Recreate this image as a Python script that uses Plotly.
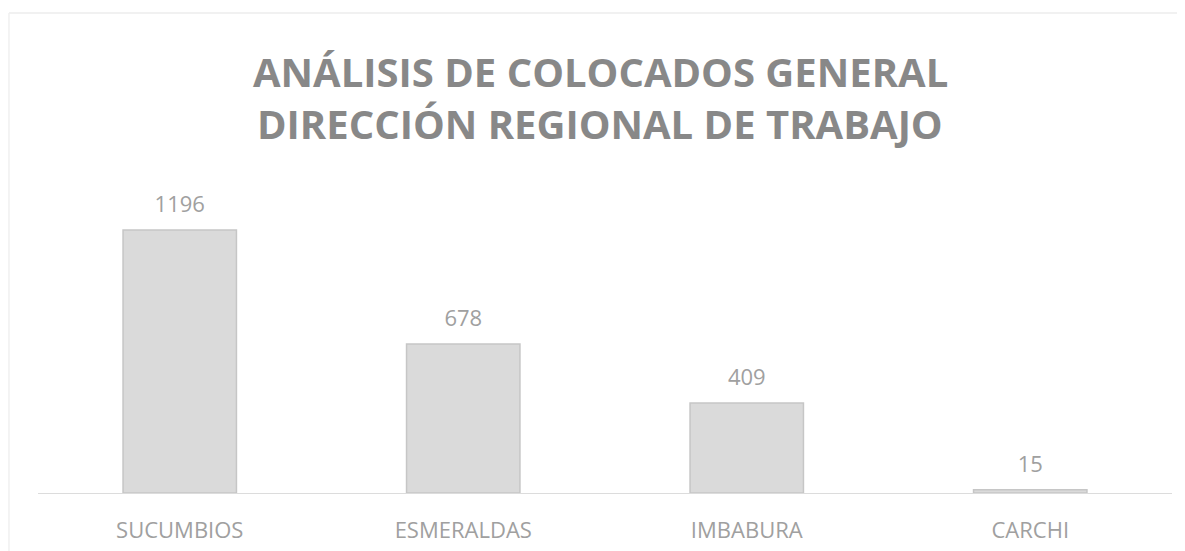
import plotly.graph_objects as go

categories = ["SUCUMBIOS", "ESMERALDAS", "IMBABURA", "CARCHI"]
values = [1196, 678, 409, 15]
title_lines = ["ANÁLISIS DE COLOCADOS GENERAL", "DIRECCIÓN REGIONAL DE TRABAJO"]

fig = go.Figure()
fig.add_trace(go.Bar(
    x=categories, y=values,
    marker=dict(color="#dadada", line=dict(color="#c6c6c6", width=1.5)),
    hoverinfo="skip",
))
fig.add_trace(go.Scatter(
    x=categories, y=values, mode="markers+text",
    text=[str(v) for v in values], textposition="top center",
    marker=dict(size=18, opacity=0),
    textfont=dict(family="Open Sans", size=22, color="#a0a0a0"),
    hoverinfo="skip",
))

title_font = dict(family="Open Sans", size=40, color="#888888", weight="bold")
fig.update_layout(
    width=1185, height=551,
    paper_bgcolor="white", plot_bgcolor="white",
    showlegend=False,
    bargap=0.6,
    margin=dict(l=30, r=21, t=182, b=66),
    annotations=[
        dict(text=title_lines[0], xref="paper", yref="paper", x=0.496, y=1.392,
             xanchor="center", yanchor="middle", showarrow=False, font=title_font),
        dict(text=title_lines[1], xref="paper", yref="paper", x=0.496, y=1.22,
             xanchor="center", yanchor="middle", showarrow=False, font=title_font),
    ],
    xaxis=dict(
        showgrid=False, showline=True, linecolor="#dcdcdc", linewidth=1,
        ticks="outside", ticklen=18, tickcolor="rgba(0,0,0,0)",
        tickfont=dict(family="Open Sans", size=22, color="#a0a0a0"),
    ),
    yaxis=dict(visible=False, range=[0, 1378]),
    shapes=[
        dict(type="line", xref="paper", yref="paper", x0=-0.0256, x1=1.03, y0=1.584, y1=1.584,
             line=dict(color="#ececec", width=1.5)),
        dict(type="line", xref="paper", yref="paper", x0=-0.0256, x1=-0.0256, y0=1.584, y1=-0.3,
             line=dict(color="#f0f0f0", width=1.5)),
    ],
)

fig.write_html("out.html")
